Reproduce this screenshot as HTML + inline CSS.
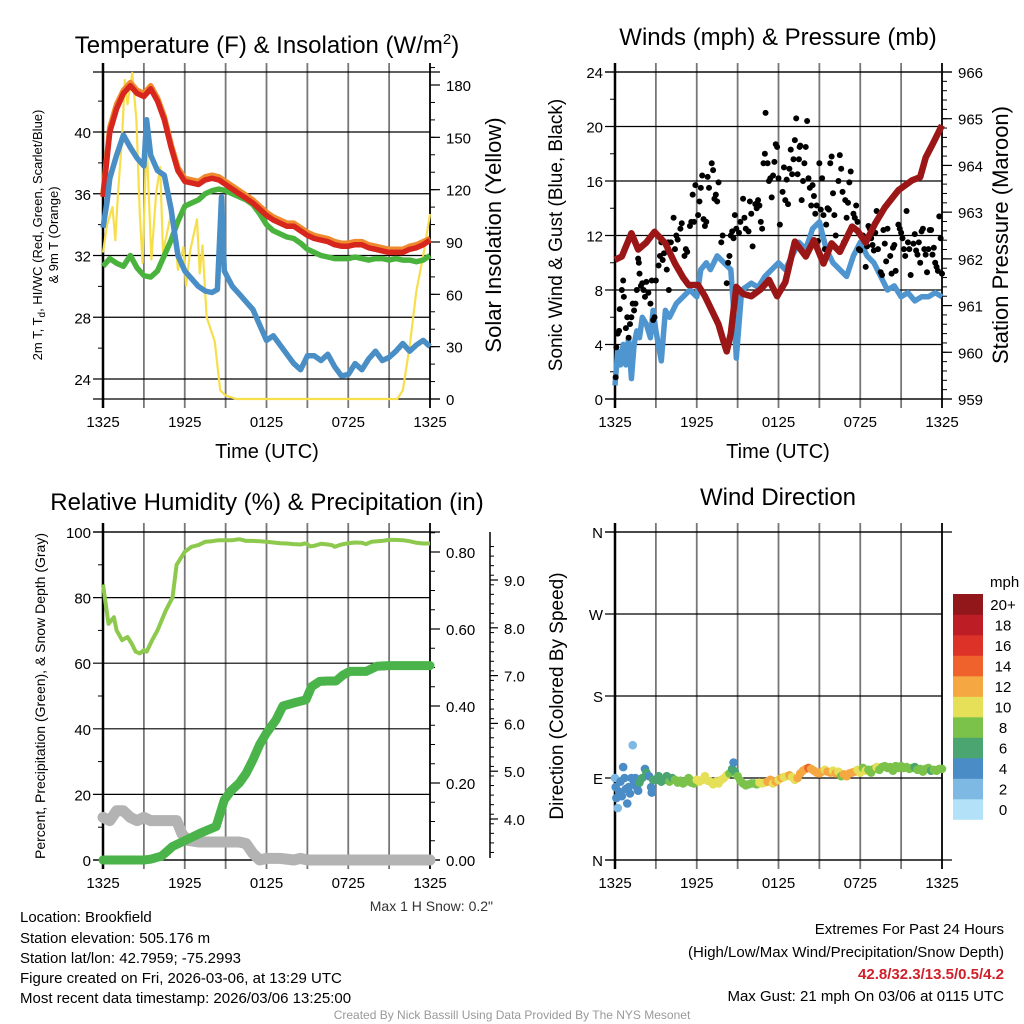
<!DOCTYPE html>
<html><head><meta charset="utf-8"><style>
html,body{margin:0;padding:0;background:#fff;width:1024px;height:1024px;overflow:hidden}
svg{display:block;font-family:"Liberation Sans",sans-serif}
</style></head><body>
<svg id="fig" width="1024" height="1024" viewBox="0 0 1024 1024" xmlns="http://www.w3.org/2000/svg">
<rect width="1024" height="1024" fill="#fff"/>
<text x="267" y="53" font-size="24" text-anchor="middle">Temperature (F) &amp; Insolation (W/m<tspan dy="-9" font-size="15">2</tspan><tspan dy="9">)</tspan></text>
<text x="778" y="45" font-size="24" text-anchor="middle">Winds (mph) &amp; Pressure (mb)</text>
<text x="267" y="510" font-size="24" text-anchor="middle">Relative Humidity (%) &amp; Precipitation (in)</text>
<text x="778" y="505" font-size="24" text-anchor="middle">Wind Direction</text>
<g id="layer"></g>
<g font-size="15">
<text x="20" y="922">Location: Brookfield</text>
<text x="20" y="943">Station elevation: 505.176 m</text>
<text x="20" y="963">Station lat/lon: 42.7959; -75.2993</text>
<text x="20" y="983">Figure created on Fri, 2026-03-06, at 13:29 UTC</text>
<text x="20" y="1003">Most recent data timestamp: 2026/03/06 13:25:00</text>
</g>
<g font-size="15" text-anchor="end">
<text x="1004" y="934">Extremes For Past 24 Hours</text>
<text x="1004" y="957">(High/Low/Max Wind/Precipitation/Snow Depth)</text>
<text x="1004" y="979" fill="#d0202a" font-weight="bold">42.8/32.3/13.5/0.5/4.2</text>
<text x="1004" y="1001">Max Gust: 21 mph On 03/06 at 0115 UTC</text>
</g>
<text x="493" y="911" font-size="14" text-anchor="end" fill="#333">Max 1 H Snow: 0.2"</text>
<text x="512" y="1019" font-size="12" text-anchor="middle" fill="#999">Created By Nick Bassill Using Data Provided By The NYS Mesonet</text>
</svg>
<script>
// ---------- data (half-hourly unless times given) ----------
const timeLabels = ["1325","1925","0125","0725","1325"];
const tempRed = [35.8,40,41.5,42.5,43,42.5,42.3,42.8,42,40.8,39,37.5,36.8,36.7,36.6,36.9,37,36.9,36.6,36.3,36,35.7,35.4,35,34.6,34.3,34.1,33.9,33.9,33.6,33.3,33.1,33,32.9,32.7,32.6,32.6,32.7,32.7,32.5,32.4,32.3,32.2,32.2,32.2,32.4,32.5,32.7,33];
const temp9m = [36,40.3,41.8,42.7,43.2,42.7,42.5,43,42.2,41,39.2,37.7,37,36.9,36.8,37.1,37.2,37.1,36.8,36.5,36.2,35.9,35.6,35.2,34.8,34.5,34.3,34.1,34.1,33.8,33.5,33.3,33.2,33.1,32.9,32.8,32.8,32.9,32.9,32.7,32.6,32.5,32.4,32.4,32.4,32.6,32.7,32.9,33.1];
const dewGreen = [31.3,31.8,31.5,31.3,32,31.2,30.7,30.6,31,32,33,34.2,35.2,35.4,35.6,36,36.2,36.3,36.2,36,35.8,35.6,35.3,34.7,34,33.6,33.4,33.2,33.1,32.8,32.4,32.2,32,31.9,31.8,31.8,31.8,31.9,31.8,31.7,31.8,31.8,31.7,31.8,31.7,31.7,31.6,31.7,32];
const wcTime = [0,0.3,0.5,1,1.5,2,2.5,3,3.2,3.5,4,4.5,5,5.5,6,6.5,7,7.5,8,8.4,8.7,8.9,9.2,9.5,10,10.5,11,11.5,12,12.5,13,13.5,14,14.5,15,15.5,16,16.5,17,17.5,18,18.5,19,19.5,20,20.5,21,21.5,22,22.5,23,23.5,24];
const wcVal = [33.8,35.5,37,38.5,39.8,39,38.3,37.8,40.8,38.5,37.5,37.2,35,32,31,30.5,30,29.7,29.6,29.8,35.8,31,30.5,30,29.5,29,28.5,27.5,26.5,26.8,26.2,25.6,25,24.6,25.5,25.5,25.2,25.6,24.8,24.2,24.3,25,24.6,25.3,25.8,25.2,25.4,25.8,26.3,25.8,26.2,26.5,26.1];
const solTime = [0,0.3,0.7,0.9,1.1,1.4,1.6,1.8,2.15,2.45,2.7,2.9,3.2,3.55,3.9,4.2,4.4,4.8,5.1,5.5,5.9,6.1,6.4,6.9,7.1,7.3,7.6,8.2,8.6,9,9.4,9.8,21.6,22,22.5,23,23.5,24];
const solVal = [84,100,110,91,118,150,183,169,187,160,106,78,148,80,118,133,84,99,110,74,87,65,85,103,72,88,47,33,5,2,1,0,0,5,30,62,82,106];
const windTime = [0,0.2,0.4,0.6,0.8,1,1.2,1.4,1.6,1.8,2,2.3,2.6,2.8,3,3.4,3.7,4,4.5,5,5.5,6,6.3,6.7,7,7.5,8,8.5,8.75,8.9,9.3,10,10.5,11,11.5,12,12.5,13,13.5,14,14.5,15,15.5,16,16.5,17,17.5,18,18.5,19,19.5,20,20.5,21,21.5,22,22.5,23,23.5,24];
const windVal = [1,3.5,2.5,4,2.5,4.5,1.5,4,5,4.5,6,5.5,4.5,6.5,5,2.8,6.5,6,7,7.5,8,7.5,9.5,10,9.5,10.5,10,9.5,6,3,8,8.5,8.2,9,9.5,10,9.5,10.5,11.5,11,12.5,13,11,10,9.5,9,10.5,11.5,10.5,10,9,8,8.3,7.5,7.8,7.2,7.5,7.5,7.8,7.5];
const presTime = [0,0.5,1.2,1.7,2.3,2.9,3.7,4.4,5,5.4,6.1,6.6,7.1,7.6,8,8.2,8.5,8.9,9.4,10,10.7,11.3,11.9,12.5,13.2,14,14.6,15.3,15.9,16.5,17.4,17.8,18.4,19.1,19.8,20.8,21.8,22.4,22.8,23.3,24];
const presVal = [961.98,962.05,962.55,962.2,962.35,962.58,962.33,961.9,961.6,961.44,961.44,961.2,960.9,960.6,960.2,960.02,960.4,961.4,961.25,961.2,961.35,961.55,961.2,961.5,962.37,962.05,962.4,961.9,962.33,962.15,962.69,962.6,962.35,962.76,963.1,963.47,963.68,963.75,964.17,964.45,964.86];
const gusts = [[0.05,1.6],[0.1,3.8],[0.2,4.8],[0.3,5],[0.35,6.6],[0.5,8],[0.6,8.7],[0.65,7.5],[0.8,5.2],[0.9,6],[1,4.5],[1.1,5.5],[1.2,6],[1.3,7],[1.4,6.5],[1.5,7],[1.6,8],[1.7,10.3],[1.75,10],[1.8,9.2],[1.9,8.3],[2,8.5],[2.1,8],[2.2,7.5],[2.3,8.6],[2.45,7.8],[2.6,7],[2.7,8.7],[2.8,5.8],[2.9,6],[3,8.7],[3.2,9.8],[3.3,10.5],[3.4,11.5],[3.5,10.2],[3.6,10.7],[3.8,9.5],[3.9,11.5],[3.95,8],[4.1,11.5],[4.3,13.3],[4.4,11],[4.5,12],[4.6,11.7],[4.7,9.5],[4.8,12.5],[4.9,12.9],[5.1,10.5],[5.2,11],[5.3,10.8],[5.5,12.7],[5.6,13],[5.7,15],[5.8,13],[5.9,15.7],[6.1,13.5],[6.2,14.5],[6.3,15.5],[6.4,16.4],[6.5,13.2],[6.6,12.7],[6.7,13],[6.8,16.3],[6.9,15.5],[7.1,17.3],[7.2,16.8],[7.3,14.7],[7.4,15],[7.5,14.5],[7.6,15.9],[7.8,11.5],[7.9,12],[8.2,8.5],[8.3,10],[8.4,10.5],[8.5,12],[8.6,12.3],[8.7,11.8],[8.8,13.5],[8.9,12.5],[9.1,12.2],[9.2,13],[9.4,14.7],[9.5,13.3],[9.6,12.5],[9.8,12.3],[9.9,14.5],[10,13.6],[10.1,11.2],[10.3,14.3],[10.4,14],[10.5,14.6],[10.6,14.2],[10.7,13],[10.8,12.5],[10.9,17.3],[11,18],[11.05,21],[11.2,17.3],[11.3,16],[11.4,16.2],[11.5,14.8],[11.6,16.4],[11.7,17.4],[11.8,18.7],[11.9,18.5],[12,16.2],[12.1,12.8],[12.3,15.2],[12.4,17],[12.5,14.6],[12.6,16.1],[12.7,14.3],[12.8,16.9],[12.9,18.3],[13,16.5],[13.1,17.6],[13.2,19],[13.3,20.6],[13.4,16.5],[13.5,17.6],[13.55,18.5],[13.6,18.6],[13.7,14.6],[13.8,16],[13.9,17.3],[14,18.5],[14.1,20.4],[14.2,16.2],[14.3,15.5],[14.4,14.2],[14.5,15.7],[14.6,14.9],[14.7,13.6],[14.8,14.2],[14.9,11.6],[15,17.3],[15.1,13.9],[15.2,16.2],[15.3,13.5],[15.4,11],[15.5,12.8],[15.6,14],[15.7,13.9],[15.8,17.3],[15.9,17.8],[16,15.1],[16.1,13.5],[16.2,12],[16.4,16],[16.5,17.9],[16.6,16.9],[16.7,15.2],[16.8,11.5],[16.9,14.6],[17,13.3],[17.1,14.4],[17.2,15.9],[17.3,16.7],[17.5,13.6],[17.6,13.3],[17.7,14.2],[17.8,13],[17.9,11],[18,10.9],[18.2,12],[18.3,11.6],[18.4,9.7],[18.5,11.2],[18.6,12.7],[18.7,12.5],[18.8,11.8],[18.9,11.3],[19,10.9],[19.1,12.2],[19.2,13.8],[19.3,11],[19.5,9.3],[19.6,9.1],[19.7,12.4],[19.8,11.4],[19.9,10.1],[20,12.5],[20.2,10.5],[20.3,9.2],[20.4,11.1],[20.5,11.3],[20.6,9.4],[20.8,12.8],[20.9,12.5],[21,12.2],[21.1,11.8],[21.2,11],[21.3,10.5],[21.4,13.8],[21.5,11.5],[21.6,11],[21.7,9.1],[21.9,11.4],[22,12.1],[22.1,10.9],[22.2,10.6],[22.3,11.5],[22.4,10],[22.5,12.3],[22.6,12.5],[22.7,11],[22.8,10.6],[22.9,9.3],[23,11],[23.1,12.4],[23.2,12.4],[23.3,10.6],[23.4,11.1],[23.5,10],[23.6,9.7],[23.7,9.4],[23.8,13.4],[23.9,11.8],[24,9.2]];
const rhVal = [84,72,74,70,67,68,66,63.5,63,64,63.5,67,70,76,80,90,94,95.5,96,97,97.2,97.5,97.5,97.5,97.8,97.3,97.3,97.2,97,96.8,96.6,96.5,96.3,96.2,96.5,96.3,95.6,95.8,96.4,96.2,96,95.5,96.2,96.6,96.8,96.7,96.3,97,97.3,97.6,97.6,97.5,97.2,96.7,96.5,96.5];
const rhTime = [0,0.4,0.8,1,1.4,1.8,2.1,2.4,2.7,3,3.2,3.6,4,4.6,5.1,5.4,6,6.5,7,7.5,8,8.5,9,9.5,10,10.5,11,11.5,12,12.5,13,13.5,14,14.5,14.8,15,15.2,15.5,16,16.5,16.8,17,17.5,18,18.5,19,19.3,19.7,20.5,21,21.5,22,22.5,23,23.5,24];
const precipTime = [0,1,2,3,3.5,4.3,5.1,6.1,7.1,8.3,8.9,9.4,10,10.5,11,11.5,12,12.7,13.2,14,14.9,15.3,15.9,16.5,17.1,17.6,18.1,19.3,20.1,21,24];
const precipVal = [0,0,0,0,0.002,0.01,0.035,0.052,0.069,0.087,0.156,0.18,0.2,0.225,0.26,0.3,0.33,0.364,0.4,0.408,0.416,0.45,0.464,0.465,0.465,0.48,0.49,0.49,0.503,0.505,0.505];
const snowTime = [0,0.5,1,1.5,2,2.5,3,3.5,4,5,5.4,5.8,6.2,7,8,9,10,10.5,11,11.5,12,13,14,14.5,15,16,20,24];
const snowVal = [13,12,15,15,13,12,13,12,12,12,12,8,6,5.5,5.5,5.5,5.5,5,2,0,0.5,0.5,0,0.5,0,0,0,0];
const snowTicks = ["4.0","5.0","6.0","7.0","8.0","9.0"];
const dirPts = [[0,90,2],[0.05,80,3],[0.1,68,3],[0.2,57,1],[0.3,75,3],[0.4,86,3],[0.5,70,3],[0.6,102,3],[0.7,90,3],[0.8,78,3],[0.9,62,3],[1,80,3],[1.1,73,4],[1.2,90,3],[1.3,126,1],[1.4,85,3],[1.5,90,4],[1.6,80,4],[1.7,76,4],[1.8,85,5],[2,90,6],[2.2,100,4],[2.3,96,5],[2.5,92,4],[2.65,80,4],[2.7,74,4],[2.8,88,6],[3,88,6],[3.2,92,6],[3.4,86,6],[3.6,88,6],[3.8,92,6],[4,86,7],[4.2,90,6],[4.4,88,7],[4.6,85,7],[4.8,87,7],[5,84,8],[5.2,86,7],[5.4,90,7],[5.6,85,8],[5.8,84,8],[6,88,9],[6.2,86,10],[6.4,88,10],[6.6,92,9],[6.8,87,10],[7,86,10],[7.2,83,10],[7.4,86,10],[7.6,84,10],[7.8,88,10],[8,90,10],[8.2,93,9],[8.4,95,8],[8.6,100,5],[8.7,107,4],[8.8,97,6],[9,92,8],[9.2,87,8],[9.4,84,8],[9.6,82,8],[9.8,83,8],[10,84,8],[10.2,84,8],[10.4,83,8],[10.6,85,9],[10.8,84,10],[11,85,10],[11.2,86,11],[11.4,88,12],[11.6,84,10],[11.8,86,12],[12,88,9],[12.2,90,12],[12.4,91,10],[12.6,92,10],[12.8,93,12],[13,91,10],[13.2,88,10],[13.4,90,11],[13.6,95,12],[13.8,98,12],[14,100,12],[14.2,101,13],[14.4,100,12],[14.6,98,12],[14.8,96,11],[15,95,12],[15.2,97,11],[15.4,99,10],[15.6,97,11],[15.8,96,12],[16,98,10],[16.2,95,11],[16.4,97,10],[16.6,92,7],[16.8,94,11],[17,92,12],[17.2,95,11],[17.4,96,12],[17.6,97,11],[17.8,99,10],[18,96,9],[18.2,101,8],[18.4,98,9],[18.6,99,8],[18.8,96,7],[19,100,8],[19.2,102,9],[19.4,99,8],[19.6,102,7],[19.8,103,8],[20,101,8],[20.2,102,8],[20.4,98,8],[20.6,103,8],[20.8,101,7],[21,103,8],[21.2,101,8],[21.4,102,7],[21.6,100,7],[21.8,101,8],[22,102,6],[22.2,99,8],[22.4,100,7],[22.6,97,7],[22.8,100,8],[23,101,7],[23.2,98,6],[23.4,99,7],[23.6,98,8],[23.8,100,7],[24,100,8]];
const speedBins = ["0","2","4","6","8","10","12","14","16","18","20+"];
const binColors = ["#b3e1f7","#7db9e3","#4a8cc6","#4aa571","#7bc24b","#e6e058","#f5a742","#ef622c","#dc3228","#bd1e25","#92171b"];

// ---------- helpers ----------
const NS = "http://www.w3.org/2000/svg";
const layer = document.getElementById("layer");
function mk(tag, attrs, parent) {
  const e = document.createElementNS(NS, tag);
  for (const k in attrs) e.setAttribute(k, attrs[k]);
  (parent || layer).appendChild(e);
  return e;
}
function txt(s, x, y, size, anchor, parent, extra) {
  const t = mk("text", Object.assign({x: x, y: y, "font-size": size, "text-anchor": anchor || "middle"}, extra || {}), parent);
  t.textContent = s;
  return t;
}
function lin(d0, d1, r0, r1) { return v => r0 + (v - d0) * (r1 - r0) / (d1 - d0); }
function pathFrom(ts, vs, xs, ys) {
  let d = "";
  for (let i = 0; i < ts.length; i++) d += (i ? "L" : "M") + xs(ts[i]).toFixed(1) + "," + ys(vs[i]).toFixed(1);
  return d;
}
const half = tempRed.map((_, i) => i * 0.5);

function frame(g, ox, yTop, yBot, leftTicks, leftMinor, ys, leftFmt, hGrid) {
  const xs = lin(0, 24, ox + 103, ox + 430);
  for (let k = 0; k <= 8; k++) {
    const x = xs(k * 3);
    const vg = mk("line", {x1: x, y1: yTop - 9, x2: x, y2: yBot + 9, stroke: (k === 0 || k === 8) ? "#000" : "#777", "stroke-width": k === 0 ? 2.5 : 1.8}, g);
    
    
  }
  mk("line", {x1: xs(0) - 10, y1: yTop, x2: xs(24) + 10, y2: yTop, stroke: "#000", "stroke-width": 1.3}, g);
  mk("line", {x1: xs(0) - 10, y1: yBot, x2: xs(24) + 10, y2: yBot, stroke: "#000", "stroke-width": 1.3}, g);
  timeLabels.forEach((s, i) => {
    const t = txt(s, xs(i * 6), yBot + 28, 15, "middle", g);
    
    
  });
  leftMinor.forEach(v => mk("line", {x1: xs(0) - 5, y1: ys(v), x2: xs(0), y2: ys(v), stroke: "#000", "stroke-width": 1}, g));
  leftTicks.forEach(v => {
    if (hGrid) mk("line", {x1: xs(0) - 10, y1: ys(v), x2: xs(24), y2: ys(v), stroke: "#000", "stroke-width": 1.2}, g);
    const t = txt(leftFmt(v), xs(0) - 12, ys(v) + 6, 15, "end", g);
    
    
  });
  return xs;
}
function rightAxis(g, x, major, minor, ys, fmt) {
  minor.forEach(v => mk("line", {x1: x, y1: ys(v), x2: x + 5, y2: ys(v), stroke: "#000", "stroke-width": 1}, g));
  major.forEach(v => {
    mk("line", {x1: x, y1: ys(v), x2: x + 10, y2: ys(v), stroke: "#000", "stroke-width": 1.2}, g);
    const t = txt(fmt(v), x + 16, ys(v) + 6, 15, "start", g);
    
    
  });
}
function rng(a, b, s) { const r = []; for (let v = a; v <= b + 1e-9; v += s) r.push(+v.toFixed(4)); return r; }
function rot(s, x, y, size, parent, name) {
  const t = mk("text", {x: 0, y: 0, "font-size": size, "text-anchor": "middle", transform: "translate(" + x + "," + y + ") rotate(-90)"}, parent);
  t.textContent = s;
  
  
  return t;
}

// ---------- panel 1: temperature ----------
(function () {
  const g = mk("g", {});
  
  
  const ys = lin(40, 24, 132, 379);
  const ysR = lin(0, 180, 399, 85);
  const xs = frame(g, 0, 72, 399, [24, 28, 32, 36, 40], rng(26, 42, 4), ys, v => v, true);
  rightAxis(g, 430, [0, 30, 60, 90, 120, 150, 180], rng(10, 190, 10), ysR, v => v);
  const sol = mk("path", {d: pathFrom(solTime, solVal, xs, ysR), fill: "none", stroke: "#f7df4c", "stroke-width": 2.2, "stroke-linejoin": "round"}, g);
  
  
  const o = mk("path", {d: pathFrom(half, temp9m, xs, ys), fill: "none", stroke: "#f08a2e", "stroke-width": 5.5, "stroke-linejoin": "round"}, g);
  
  
  const gr = mk("path", {d: pathFrom(half, dewGreen, xs, ys), fill: "none", stroke: "#4ab33e", "stroke-width": 5.5, "stroke-linejoin": "round"}, g);
  
  
  const r = mk("path", {d: pathFrom(half, tempRed, xs, ys), fill: "none", stroke: "#d7261e", "stroke-width": 5.5, "stroke-linejoin": "round"}, g);
  
  
  const b = mk("path", {d: pathFrom(wcTime, wcVal, xs, ys), fill: "none", stroke: "#4a8ec6", "stroke-width": 5.5, "stroke-linejoin": "round"}, g);
  
  
  const t1 = mk("text", {x: 0, y: 0, "font-size": 13, "text-anchor": "middle", transform: "translate(42,235) rotate(-90)"}, g);
  t1.innerHTML = '2m T, T<tspan dy="3" font-size="10">d</tspan><tspan dy="-3">, HI/WC (Red, Green, Scarlet/Blue)</tspan>';
  
  
  rot("& 9m T (Orange)", 58, 235, 13, g, "temp-y-axis-title-line2");
  rot("Solar Insolation (Yellow)", 501, 235, 22, g, "insolation-axis-title");
  const xt = txt("Time (UTC)", 267, 458, 20, "middle", g);
  
  
})();

// ---------- panel 2: winds ----------
(function () {
  const g = mk("g", {});
  
  
  const ys = lin(0, 24, 399, 72);
  const ysR = lin(959, 966, 399, 72);
  const xs = frame(g, 512, 72, 399, [0, 4, 8, 12, 16, 20, 24], rng(2, 22, 4), ys, v => v, true);
  rightAxis(g, 942, rng(959, 966, 1), rng(959, 966, 0.2), ysR, v => v);
  const w = mk("path", {d: pathFrom(windTime, windVal, xs, ys), fill: "none", stroke: "#4f96d0", "stroke-width": 5.5, "stroke-linejoin": "round"}, g);
  
  
  gusts.forEach(p => {
    const c = mk("circle", {cx: xs(p[0]), cy: ys(p[1]), r: 3, fill: "#000"}, g);
    
    
  });
  const p = mk("path", {d: pathFrom(presTime, presVal, xs, ysR), fill: "none", stroke: "#9b1616", "stroke-width": 6.5, "stroke-linejoin": "round"}, g);
  
  
  rot("Sonic Wind & Gust (Blue, Black)", 562, 235, 19, g, "wind-y-axis-title");
  rot("Station Pressure (Maroon)", 1008, 235, 22, g, "pressure-axis-title");
  const xt = txt("Time (UTC)", 778, 458, 20, "middle", g);
  
  
})();

// ---------- panel 3: RH & precip ----------
(function () {
  const g = mk("g", {});
  
  
  const ys = lin(0, 100, 860, 532);
  const ysR = lin(0, 0.8, 860, 552);
  const ys3 = lin(4, 9, 819, 580);
  const xs = frame(g, 0, 532, 860, [0, 20, 40, 60, 80, 100], rng(10, 90, 20), ys, v => v, true);
  rightAxis(g, 430, rng(0, 0.8, 0.2), rng(0, 0.85, 0.05), ysR, v => v.toFixed(2));
  mk("line", {x1: 490, y1: 532, x2: 490, y2: 858, stroke: "#000", "stroke-width": 1.5}, g);
  rng(3.3, 9.7, 0.2).forEach(v => mk("line", {x1: 490, y1: ys3(v), x2: 494, y2: ys3(v), stroke: "#000", "stroke-width": 1}, g));
  snowTicks.forEach((s, i) => {
    mk("line", {x1: 490, y1: ys3(4 + i), x2: 498, y2: ys3(4 + i), stroke: "#000", "stroke-width": 1.2}, g);
    const t = txt(s, 504, ys3(4 + i) + 6, 15, "start", g);
    
    
  });
  const s = mk("path", {d: pathFrom(snowTime, snowVal, xs, ys), fill: "none", stroke: "#b3b3b3", "stroke-width": 11, "stroke-linejoin": "round", "stroke-linecap": "round"}, g);
  
  
  const pr = mk("path", {d: pathFrom(precipTime, precipVal, xs, ysR), fill: "none", stroke: "#4ab34a", "stroke-width": 9, "stroke-linejoin": "round", "stroke-linecap": "round"}, g);
  
  
  const rh = mk("path", {d: pathFrom(rhTime, rhVal, xs, ys), fill: "none", stroke: "#8cc94c", "stroke-width": 4, "stroke-linejoin": "round"}, g);
  
  
  rot("Percent, Precipitation (Green), & Snow Depth (Gray)", 45, 696, 14, g, "rh-y-axis-title");
})();

// ---------- panel 4: wind direction ----------
(function () {
  const g = mk("g", {});
  
  
  const ys = lin(0, 360, 860, 532);
  const names = ["N", "E", "S", "W", "N"];
  const xs = frame(g, 512, 532, 860, [0, 90, 180, 270, 360], [], ys, v => names[v / 90], true);
  dirPts.forEach(p => {
    const bin = Math.min(10, Math.round(p[2] / 2));
    const c = mk("circle", {cx: xs(p[0]), cy: ys(p[1]), r: 4.3, fill: binColors[bin]}, g);
    
    
  });
  rot("Direction (Colored By Speed)", 563, 696, 19, g, "direction-y-axis-title");
  const leg = mk("g", {}, g);
  
  
  const lt = txt("mph", 990, 587, 15, "start", leg);
  
  
  speedBins.forEach((s, i) => {
    const y = 594 + (10 - i) * 20.5;
    const r = mk("rect", {x: 953, y: y, width: 30, height: 20.8, fill: binColors[i]}, leg);
    
    
    const t = txt(s, 1003, y + 16, 15, "middle", leg);
    
    
  });
})();
</script>
</body></html>
